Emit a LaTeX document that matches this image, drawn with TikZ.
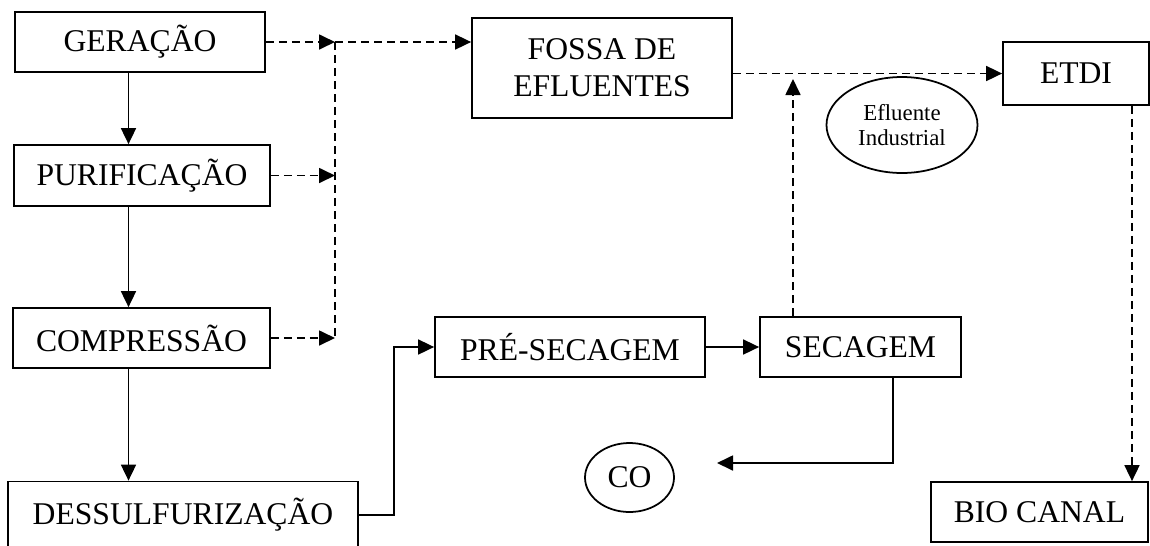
\documentclass[tikz,border=0pt]{standalone}
\usepackage{fontspec}
\setmainfont{Liberation Serif}
\usetikzlibrary{arrows.meta,positioning,shapes.geometric}

\begin{document}
\begin{tikzpicture} [->,>={Triangle[length=0.32cm,width=0.3cm]},line width=1pt,
  box/.style={draw,rectangle,inner sep=0pt,minimum height=1.2cm,font=\fontsize{18}{21}\selectfont,align=center},
  oval/.style={draw,ellipse,inner sep=0pt,align=center},
  flow/.style={dash pattern=on 0.16cm off 0.1cm}]

  \useasboundingbox (0,0) rectangle (23,-10.9);

  \node[box, minimum width=5.0cm] (1) at (2.80,-0.84) {GERAÇÃO};
  \node[box, minimum width=5.12cm, minimum height=1.22cm] (2) at (2.84,-3.51) {PURIFICAÇÃO};
  \node[box, minimum width=5.14cm] (3) at (2.83,-6.76) {COMPRESSÃO};
  \node[box, minimum width=7.0cm, minimum height=1.34cm] (4) at (3.66,-10.30) {DESSULFURIZAÇÃO};
  \node[box, minimum width=5.2cm, minimum height=2.0cm] (5) at (12.04,-1.36) {FOSSA DE\\EFLUENTES};
  \node[box, minimum width=2.92cm, minimum height=1.26cm] (6) at (21.52,-1.47) {ETDI};
  \node[oval, minimum width=3.02cm, minimum height=1.92cm, font=\fontsize{13}{14.7}\selectfont] (7) at (18.04,-2.5) {Efluente\\Industrial};
  \node[box, minimum width=5.4cm] (8) at (11.40,-6.94) {PRÉ-SECAGEM};
  \node[box, minimum width=4.02cm] (9) at (17.21,-6.94) {SECAGEM};
  \node[oval, minimum width=1.78cm, minimum height=1.38cm, font=\fontsize{18}{21}\selectfont] (10) at (12.59,-9.55) {CO};
  \node[box, minimum width=4.34cm] (11) at (20.79,-10.24) {BIO CANAL};

  \coordinate (x) at (2.57,0);
  \coordinate (j) at (6.70,0);
  \coordinate (up) at (15.86,-1.58);
  \coordinate (dn) at (22.64,0);
  \coordinate (k) at (17.86,-9.26);
  \coordinate (tip) at (14.34,-9.26);

  \draw (1.south -| x) -- (2.north -| x);
  \draw (2.south -| x) -- (3.north -| x);
  \draw (3.south -| x) -- (4.north -| x);
  \draw[flow] (1.east) -- (1.east -| j);
  \draw[flow] (1.east -| j) -- (5.west |- 1.east);
  \draw[flow,-] (1.east -| j) -- (j |- 3.east);
  \draw[flow] (2.east) -- (2.east -| j);
  \draw[flow] (3.east) -- (3.east -| j);
  \draw[flow] (5.east |- 6.west) -- (6.west);
  \draw[flow] (9.north -| up) -- (up);
  \draw[flow] (6.south -| dn) -- (11.north -| dn);
  \draw (4.east) -- ++(0.7,0) |- (8.west);
  \draw (8) -- (9);
  \draw (9.south -| k) -- (k) -- (tip);

\end{tikzpicture}
\end{document}
